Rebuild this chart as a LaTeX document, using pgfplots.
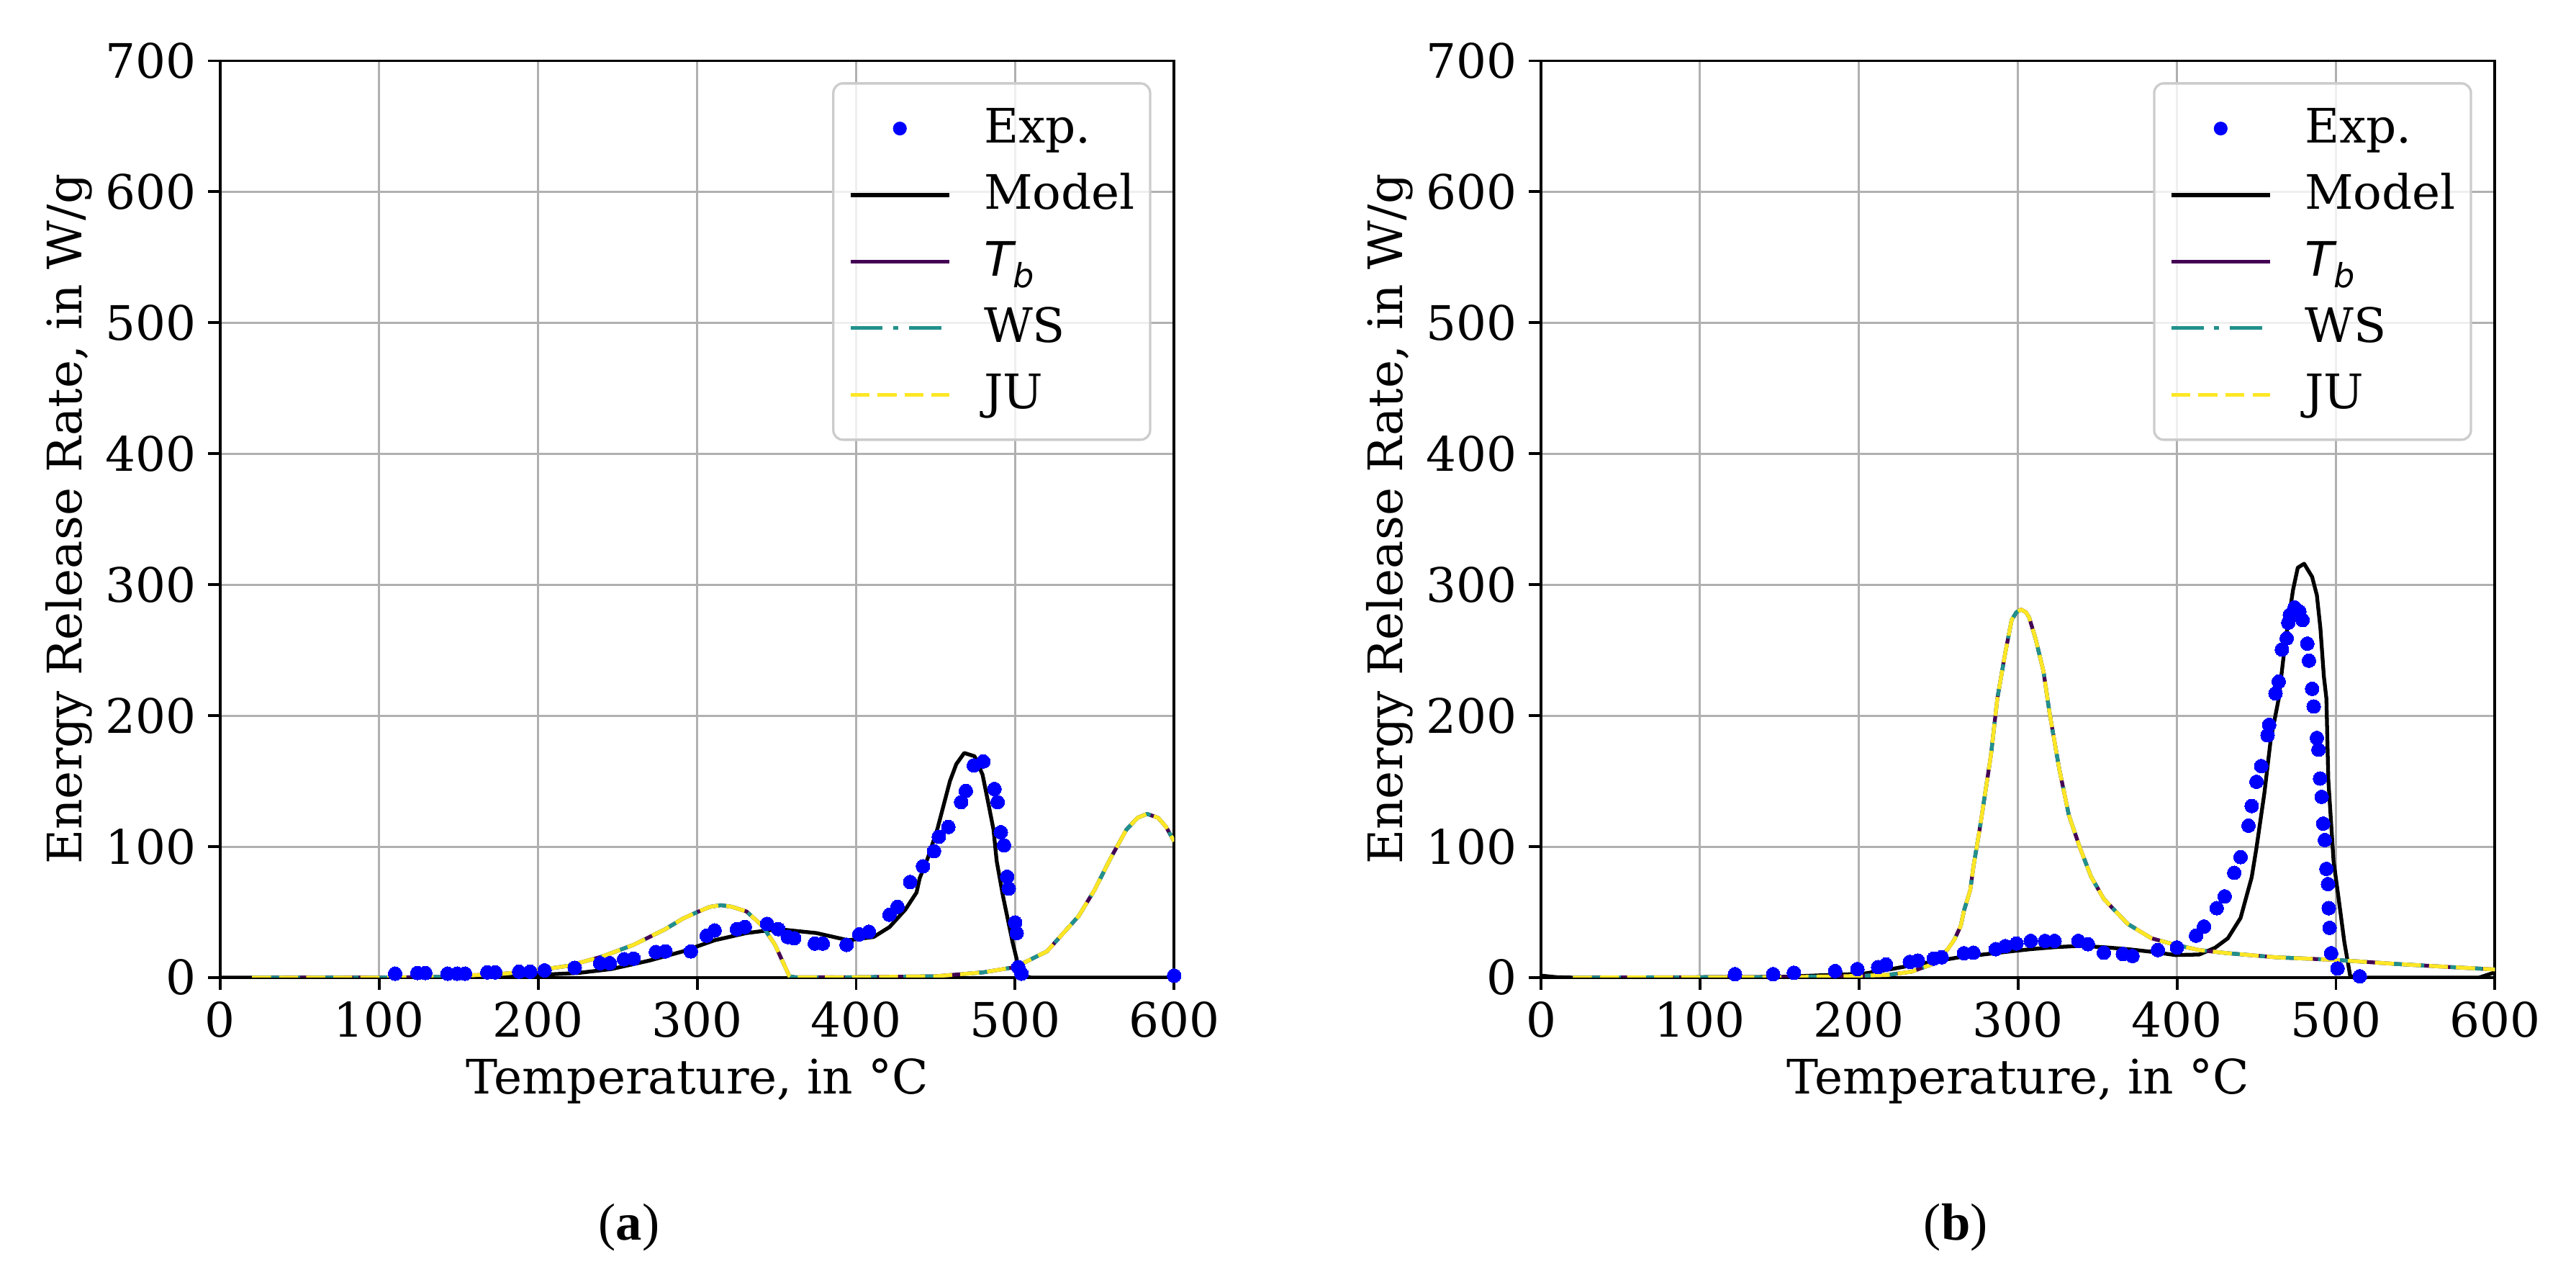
\documentclass[border=0pt]{standalone}
\usepackage{fontspec}
\setmainfont{DejaVu Serif}
\newfontfamily\dvsans{DejaVu Sans}
\newfontfamily\capfont{Liberation Serif}
\usepackage{pgfplots}
\usepackage{pgfplotstable}
\pgfplotsset{compat=1.18}
\definecolor{vir0}{HTML}{440154}
\definecolor{vir1}{HTML}{21918C}
\definecolor{vir2}{HTML}{FDE725}
\definecolor{gridc}{HTML}{B0B0B0}
\definecolor{legc}{HTML}{CCCCCC}

% ---------- left panel (a) ----------
\pgfplotstableread[row sep=\\]{
T W\\
110 3\\ 124 3.5\\ 129 3.5\\ 143 3\\ 149 3\\ 154 3\\ 168 4\\ 173 4\\ 188 4.5\\ 195 4.5\\
204 5.5\\ 223 7.5\\ 239 11\\ 245 11\\ 254 14\\ 260 14.5\\ 274 19.5\\ 280 20\\ 296 20\\
306 32\\ 311 36\\ 325 37\\ 330 38.6\\ 344 41\\ 351 37\\ 357 31\\ 361 30\\ 374 26\\ 379 26\\
394 25\\ 402 33\\ 408 35\\ 421 48\\ 426 54\\ 434 73\\ 442 85\\ 449 96.5\\ 452 107.5\\
458 115\\ 466 134\\ 469 142.5\\ 474 162\\ 480 165\\ 487 144\\ 489 134\\ 491 111\\ 493 101\\
495 77\\ 496 68\\ 500 42\\ 501 34\\ 502 8\\ 504 3\\ 600 1.5\\
}\expA
\pgfplotstableread[row sep=\\]{
T W\\
0 0\\ 170 0\\ 185 1\\ 199 2\\ 225 3.5\\ 246 6.5\\ 270 13\\ 291 20\\ 311 28.5\\ 331 34\\
351 37\\ 375 34\\ 395 28.5\\ 411 31\\ 421 38.6\\ 431 52\\ 438 65\\ 440 76\\ 445 91\\
451 113\\ 459 150\\ 463 163\\ 468 171.5\\ 474.5 169\\ 479.5 155\\ 483 134\\ 486.4 113\\
488.4 89\\ 492.4 62\\ 498.4 27\\ 503.4 2\\ 510 0\\ 600 0\\
}\modA
\pgfplotstableread[row sep=\\]{
T W\\
20 0\\ 100 0\\ 138 0.5\\ 179 3\\ 199 5.5\\ 219 9\\ 240 16\\ 260 25\\ 280 37\\ 291 45\\
300 50\\ 308 54\\ 315 55.3\\ 322 54\\ 331 50.5\\ 341 39.5\\ 349 25\\ 358 1\\ 362 0.2\\
400 0.3\\ 450 1\\ 480 4\\ 500 8\\ 520 20\\ 540 47\\ 550 67\\ 560 91\\ 570 113\\ 577 122\\
583 125\\ 590 122\\ 595 115\\ 600 104\\
}\tbA

% ---------- right panel (b) ----------
\pgfplotstableread[row sep=\\]{
T W\\
122 2.6\\ 146 2.6\\ 159 3.7\\ 185 5\\ 199 6.5\\ 212 8\\ 217 10\\ 232 12\\ 237 13\\
247 14.5\\ 252 15.5\\ 266 18.6\\ 272 19\\ 286 21.7\\ 292 24\\ 299 26\\ 308 28\\ 317 28\\
323 28\\ 338 28\\ 344 25.5\\ 354 19\\ 366 18\\ 372 16.5\\ 388 21\\ 400 23\\ 412 32\\
417 39\\ 425 53\\ 430 62\\ 436 80\\ 440 92\\ 445 116\\ 447 131\\ 450 149.5\\ 453 161.5\\
457 185\\ 458 193\\ 462 217\\ 464 226\\ 466 250.5\\ 469 259\\ 470 271\\ 471 277\\
474 282.6\\ 477 279.5\\ 479 273\\ 482 255\\ 483 242\\ 485 220.5\\ 486 207\\ 488 183\\
489 174\\ 490 152\\ 491 138\\ 492 117.6\\ 493 105\\ 494 83\\ 495 71.4\\ 495.5 53\\
496 38\\ 497 18.6\\ 501 7\\ 515 1\\
}\expB
\pgfplotstableread[row sep=\\]{
T W\\
0 1.5\\ 10 0.3\\ 20 0\\ 150 0.5\\ 175 1.7\\ 195 2.6\\ 203 3\\ 218 6\\ 233 9.3\\
248 12.4\\ 263 15.5\\ 278 17.6\\ 293 19.7\\ 308 21.7\\ 323 23.2\\ 339 24.2\\ 354 23.2\\
369 21.7\\ 384 19.7\\ 399 17.2\\ 414 17.6\\ 424 22.8\\ 432 30\\ 440 45.5\\ 447 76.6\\
450 99\\ 455 141\\ 459 182\\ 464 213\\ 468 255\\ 473 296\\ 476 313\\ 480 316\\ 485 306\\
488 292\\ 490.2 267\\ 492.4 230\\ 494 213\\ 495.2 151\\ 498.5 89\\ 501.5 62\\ 505.3 27\\
509 1\\ 515 0\\ 590 0\\ 600 4\\
}\modB
\pgfplotstableread[row sep=\\]{
T W\\
20 0\\ 150 0.3\\ 190 1\\ 218 2\\ 233 4.5\\ 248 11\\ 256 22\\ 260 29\\ 264 39.5\\ 266 51\\
270 67\\ 272 85\\ 276 114\\ 278 130\\ 283 170\\ 287 213\\ 292 248\\ 296 273\\ 299 279\\
302 281\\ 305 279\\ 307 275\\ 311 259\\ 316 234\\ 320 201\\ 326 159\\ 332 124\\ 339 99\\
346 77\\ 354 60\\ 369 41\\ 384 30\\ 399 25\\ 414 21\\ 432 18.6\\ 462 15.5\\ 500 13.5\\
538 10.4\\ 568 8.3\\ 600 6.2\\
}\tbB

\pgfplotsset{
  myaxis/.style={
    scale only axis, width=200.8pt, height=192.95pt,
    xmin=0, xmax=600, ymin=0, ymax=700,
    xtick={0,100,...,600}, ytick={0,100,...,700},
    tick pos=left, tick align=outside, major tick length=2.6pt,
    every tick/.style={black, line width=0.6pt},
    axis line style={line width=0.6pt},
    grid=major, major grid style={gridc, line width=0.45pt},
    /pgf/number format/assume math mode=true,
    ticklabel style={font=\fontsize{10}{12}\selectfont},
    xticklabel style={inner ysep=2.3pt},
    yticklabel style={inner xsep=2.3pt},
    xlabel={Temperature, in °C},
    ylabel={Energy Release Rate, in W/g},
    xlabel style={at={(axis description cs:0.5,-0.113)}, anchor=center},
    ylabel style={at={(axis description cs:-0.159,0.5)}, anchor=center},
    label style={font=\fontsize{10}{12}\selectfont},
    legend cell align=left,
    legend style={at={(1,1)}, anchor=north east, xshift=-4.8pt, yshift=-4.5pt,
      draw=legc, line width=0.5pt, rounded corners=2pt, fill=white,
      fill opacity=0.8, text opacity=1, draw opacity=1,
      inner xsep=3.2pt, inner ysep=4.5pt, row sep=4pt,
      font=\fontsize{10}{12}\selectfont,
      nodes={inner sep=0pt, text height=8pt, text depth=2pt, anchor=west}},
    legend image code/.code={\draw[##1, fill opacity=1] (0pt,0pt) -- (20.8pt,0pt);
      \path[draw=none, fill=none] (0pt,0pt) -- (28.1pt,0pt);},
  },
  expst/.style={only marks, mark=*, mark size=1.45pt, color=blue,
    mark options={draw=blue, fill=blue, line width=0pt},
    legend image code/.code={\path[draw=none, fill=none] (0pt,0pt) -- (28.1pt,0pt);
      \path[draw=none, fill=blue, fill opacity=1] (10.4pt,0pt) circle[radius=1.45pt];}},
  modst/.style={black, line width=0.8pt, line join=round, no marks},
  tbst/.style={vir0, line width=0.8pt, line join=round, no marks},
  wsst/.style={vir1, line width=0.8pt, line join=round, no marks,
    dash pattern=on 6.8pt off 2.2pt on 1.1pt off 2.2pt},
  just/.style={vir2, line width=0.8pt, line join=round, no marks,
    dash pattern=on 4pt off 1.7pt},
}

\newcommand{\Tb}{{\dvsans\itshape T\raisebox{-0.25em}{\fontsize{7}{8}\selectfont b}}}

\begin{document}
\begin{tikzpicture}
\useasboundingbox (0,0) rectangle (542.27pt,270.3pt);

\begin{axis}[myaxis, at={(46.36pt,64.55pt)}, anchor=south west]
\addplot[expst] table[x=T,y=W] {\expA};
\addplot[modst] table[x=T,y=W] {\modA};
\addplot[tbst] table[x=T,y=W] {\tbA};
\addplot[wsst] table[x=T,y=W] {\tbA};
\addplot[just] table[x=T,y=W] {\tbA};
\legend{Exp., Model, \Tb, WS, JU}
\end{axis}

\begin{axis}[myaxis, at={(324.4pt,64.55pt)}, anchor=south west]
\addplot[expst] table[x=T,y=W] {\expB};
\addplot[modst] table[x=T,y=W] {\modB};
\addplot[tbst] table[x=T,y=W] {\tbB};
\addplot[wsst] table[x=T,y=W] {\tbB};
\addplot[just] table[x=T,y=W] {\tbB};
\legend{Exp., Model, \Tb, WS, JU}
\end{axis}

\node[font=\capfont\fontsize{11}{13}\selectfont] at (132.4pt,12pt) {(\textbf{a})};
\node[font=\capfont\fontsize{11}{13}\selectfont] at (411.7pt,12pt) {(\textbf{b})};
\end{tikzpicture}
\end{document}
